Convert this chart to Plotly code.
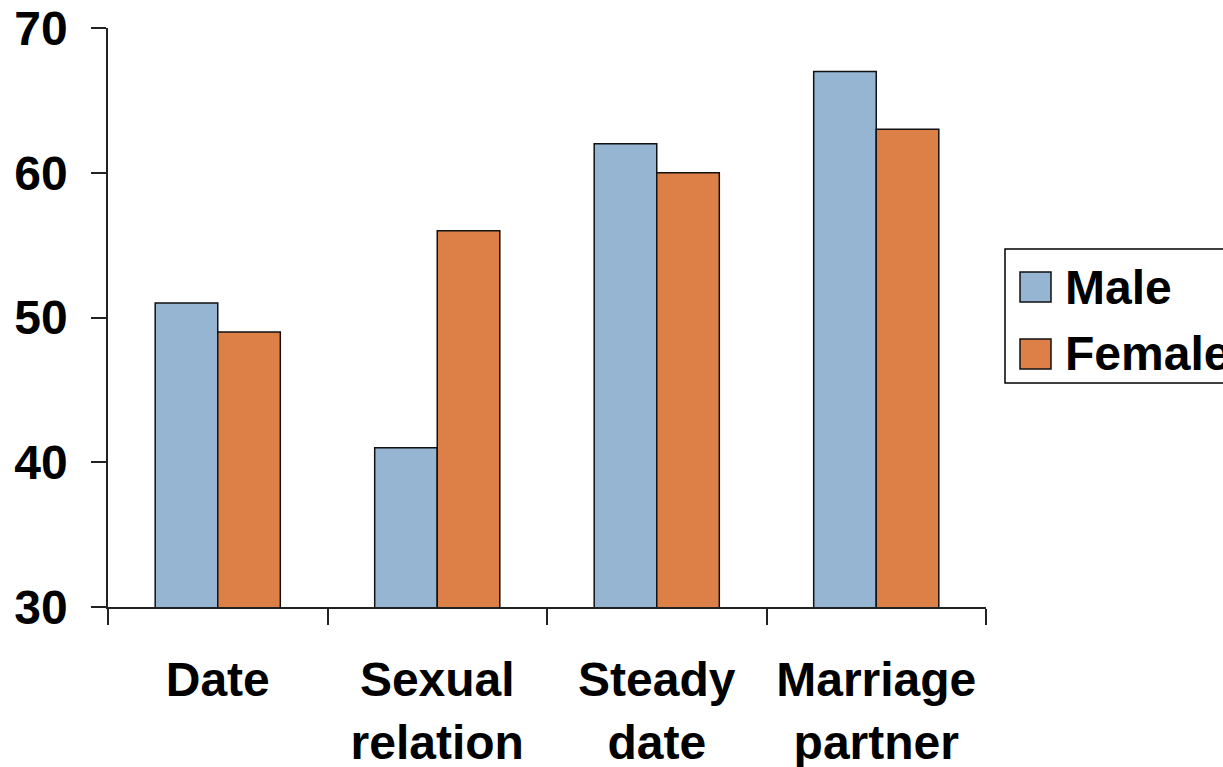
import plotly.graph_objects as go

categories = ["Date", "Sexual<br>relation", "Steady<br>date", "Marriage<br>partner"]
male = [51, 41, 62, 67]
female = [49, 56, 60, 63]
y_ticks = [30, 40, 50, 60, 70]
series_names = ["Male", "Female"]
series_colors = ["#95B5D3", "#DD8048"]

FONT = "Liberation Sans, Arial, sans-serif"
W, H = 1223, 767
L, R, T, B = 108, 237, 28, 160
PW, PH = W - L - R, H - T - B


def px_x(p):
    return (p - L) / PW


def px_y(p):
    return (H - B - p) / PH


fig = go.Figure()
for name, vals, col in zip(series_names, [male, female], series_colors):
    fig.add_trace(go.Bar(name=name, x=categories, y=vals,
                         marker=dict(color=col, line=dict(color="#111111", width=1.5))))

# manual legend (large symbols like the reference)
shapes = [dict(type="rect", xref="paper", yref="paper",
               x0=px_x(1005), x1=px_x(1260), y0=px_y(383), y1=px_y(249),
               line=dict(color="black", width=1.5), fillcolor="white", layer="above")]
annotations = []
for i, (name, col) in enumerate(zip(series_names, series_colors)):
    top = 272 + i * 67
    shapes.append(dict(type="rect", xref="paper", yref="paper",
                       x0=px_x(1020), x1=px_x(1051), y0=px_y(top + 30), y1=px_y(top),
                       line=dict(color="#111111", width=1.5), fillcolor=col, layer="above"))
    annotations.append(dict(xref="paper", yref="paper", x=px_x(1063), y=px_y(top + 15),
                            xanchor="left", yanchor="middle", showarrow=False, text=name,
                            font=dict(family=FONT, size=48, color="black", weight="bold")))

fig.update_layout(
    width=W, height=H,
    margin=dict(l=L, r=R, t=T, b=B, autoexpand=False),
    paper_bgcolor="white", plot_bgcolor="white",
    barmode="group", bargap=0.43, bargroupgap=0,
    font=dict(family=FONT, size=48, color="black", weight="bold"),
    showlegend=False,
    shapes=shapes, annotations=annotations,
    xaxis=dict(type="category", tickson="boundaries", ticks="outside", ticklen=16,
               tickwidth=1.5, tickcolor="#222", showline=True, linecolor="#222", linewidth=1.5,
               showgrid=False, zeroline=False, ticklabelstandoff=30, automargin=False,
               tickfont=dict(family=FONT, size=48, color="black", weight="bold")),
    yaxis=dict(range=[30, 70], tickvals=y_ticks, ticks="outside", ticklen=15,
               tickwidth=1.5, tickcolor="#222", showline=True, linecolor="#222", linewidth=1.5,
               showgrid=False, zeroline=False, ticklabelstandoff=14, automargin=False,
               tickfont=dict(family=FONT, size=48, color="black", weight="bold")),
)

fig.write_html("out.html")
